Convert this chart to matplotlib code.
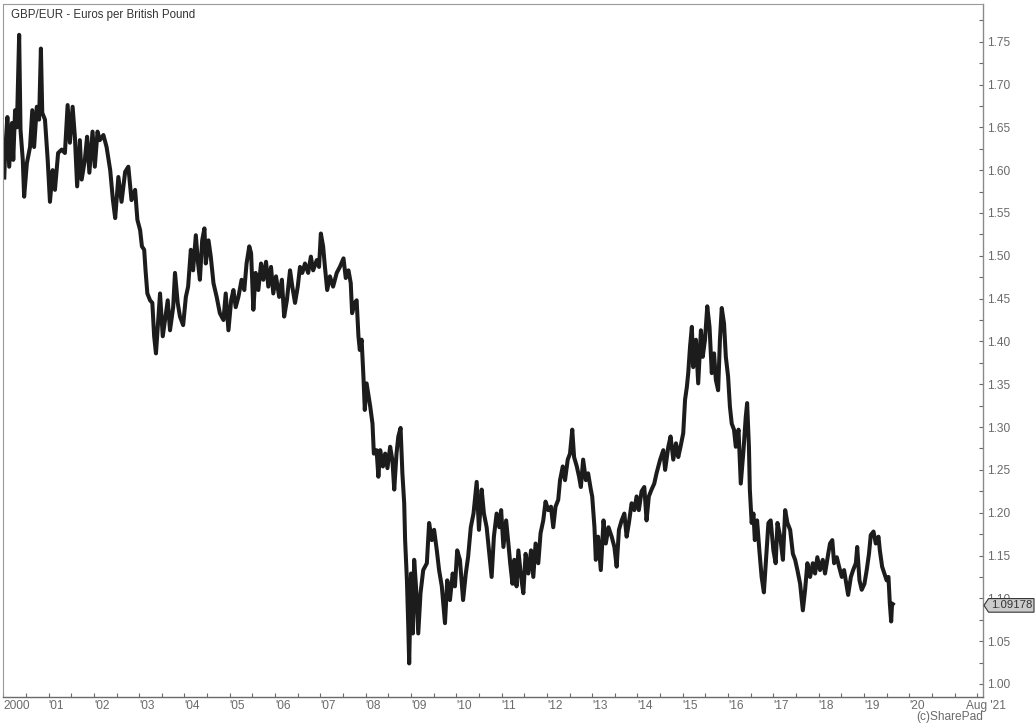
import matplotlib
matplotlib.use("Agg")
import matplotlib.pyplot as plt
from matplotlib.ticker import MultipleLocator, FixedLocator, NullFormatter
from matplotlib.patches import Polygon
import numpy as np

# ---------------- data (decimal year, Euros per GBP) ----------------
dates_a = [2000.02, 2000.04, 2000.09, 2000.13, 2000.19, 2000.22, 2000.26, 2000.30, 2000.35, 2000.38,
           2000.43, 2000.46, 2000.52, 2000.59, 2000.64, 2000.68, 2000.74, 2000.79, 2000.83, 2000.86,
           2000.92, 2000.98, 2001.03, 2001.09, 2001.14, 2001.21, 2001.29, 2001.36, 2001.42, 2001.47,
           2001.53, 2001.58, 2001.63, 2001.69, 2001.73, 2001.80, 2001.85, 2001.90, 2001.97, 2002.02,
           2002.08, 2002.13, 2002.21, 2002.28, 2002.36, 2002.42, 2002.47, 2002.54, 2002.61, 2002.69,
           2002.76, 2002.83, 2002.91, 2002.96, 2003.02, 2003.06, 2003.11, 2003.14, 2003.18, 2003.24,
           2003.29, 2003.33, 2003.37, 2003.42, 2003.46, 2003.52]
values_a = [1.589, 1.620, 1.662, 1.604, 1.655, 1.612, 1.670, 1.650, 1.758, 1.647,
            1.612, 1.569, 1.608, 1.627, 1.670, 1.627, 1.674, 1.659, 1.742, 1.667,
            1.659, 1.612, 1.563, 1.600, 1.577, 1.620, 1.624, 1.620, 1.676, 1.632,
            1.674, 1.639, 1.581, 1.635, 1.589, 1.612, 1.639, 1.597, 1.645, 1.604,
            1.645, 1.635, 1.641, 1.627, 1.600, 1.565, 1.544, 1.592, 1.563, 1.598,
            1.604, 1.565, 1.577, 1.542, 1.530, 1.511, 1.507, 1.483, 1.456, 1.448,
            1.445, 1.406, 1.386, 1.425, 1.456, 1.406]

dates_b = [2003.57, 2003.63, 2003.68, 2003.75, 2003.79, 2003.85, 2003.90, 2003.97, 2004.03, 2004.08,
           2004.14, 2004.19, 2004.25, 2004.30, 2004.34, 2004.39, 2004.44, 2004.47, 2004.53, 2004.58,
           2004.64, 2004.71, 2004.78, 2004.86, 2004.91, 2004.97, 2005.03, 2005.08, 2005.13, 2005.19,
           2005.26, 2005.32, 2005.37, 2005.43, 2005.47, 2005.52, 2005.57, 2005.63, 2005.69, 2005.74,
           2005.80, 2005.85, 2005.91, 2005.96, 2006.02, 2006.09, 2006.15, 2006.20, 2006.26, 2006.33,
           2006.38, 2006.44, 2006.50, 2006.55, 2006.60, 2006.66, 2006.73, 2006.79, 2006.84, 2006.92,
           2006.97, 2007.01, 2007.06, 2007.10, 2007.15]
values_b = [1.425, 1.448, 1.413, 1.440, 1.480, 1.445, 1.429, 1.419, 1.452, 1.464,
            1.507, 1.483, 1.524, 1.491, 1.472, 1.518, 1.532, 1.491, 1.518, 1.499,
            1.468, 1.452, 1.433, 1.425, 1.456, 1.413, 1.448, 1.460, 1.440, 1.452,
            1.472, 1.460, 1.491, 1.511, 1.503, 1.437, 1.480, 1.460, 1.491, 1.472,
            1.493, 1.464, 1.487, 1.456, 1.476, 1.452, 1.472, 1.429, 1.448, 1.483,
            1.464, 1.445, 1.464, 1.487, 1.480, 1.491, 1.480, 1.499, 1.483, 1.495,
            1.487, 1.526, 1.511, 1.487, 1.460]

dates_c = [2007.21, 2007.28, 2007.36, 2007.43, 2007.51, 2007.56, 2007.62, 2007.67, 2007.70, 2007.76,
           2007.80, 2007.84, 2007.87, 2007.91, 2007.95, 2007.98, 2008.02, 2008.10, 2008.15, 2008.18,
           2008.24, 2008.28, 2008.32, 2008.38, 2008.43, 2008.48, 2008.54, 2008.59, 2008.63, 2008.68,
           2008.72, 2008.77, 2008.81, 2008.85, 2008.87, 2008.91, 2008.94, 2008.96, 2009.00, 2009.04,
           2009.07, 2009.11, 2009.16, 2009.21, 2009.27, 2009.35, 2009.40, 2009.46, 2009.51, 2009.57,
           2009.62, 2009.68, 2009.75, 2009.80, 2009.86, 2009.92, 2009.97, 2010.02, 2010.08, 2010.15,
           2010.21, 2010.26, 2010.32, 2010.38, 2010.45, 2010.50, 2010.56, 2010.61, 2010.67, 2010.73,
           2010.78, 2010.83, 2010.89, 2010.95]
values_c = [1.476, 1.464, 1.480, 1.487, 1.497, 1.474, 1.483, 1.468, 1.433, 1.445,
            1.448, 1.406, 1.390, 1.402, 1.359, 1.320, 1.351, 1.324, 1.304, 1.269,
            1.273, 1.242, 1.273, 1.254, 1.269, 1.252, 1.277, 1.261, 1.227, 1.269,
            1.289, 1.299, 1.246, 1.211, 1.168, 1.121, 1.067, 1.024, 1.129, 1.059,
            1.145, 1.114, 1.059, 1.106, 1.133, 1.141, 1.188, 1.168, 1.180, 1.156,
            1.133, 1.114, 1.071, 1.121, 1.098, 1.129, 1.114, 1.156, 1.145, 1.098,
            1.129, 1.148, 1.183, 1.199, 1.236, 1.180, 1.227, 1.199, 1.183, 1.152,
            1.125, 1.172, 1.199, 1.183]

dates_d = [2010.99, 2011.04, 2011.10, 2011.15, 2011.19, 2011.24, 2011.28, 2011.33, 2011.37, 2011.43,
           2011.48, 2011.53, 2011.59, 2011.65, 2011.70, 2011.75, 2011.81, 2011.86, 2011.92, 2011.97,
           2012.03, 2012.09, 2012.14, 2012.19, 2012.25, 2012.29, 2012.35, 2012.40, 2012.46, 2012.51,
           2012.56, 2012.60, 2012.66, 2012.71, 2012.75, 2012.80, 2012.86, 2012.91, 2012.97, 2013.00,
           2013.05, 2013.08, 2013.13, 2013.19, 2013.25, 2013.30, 2013.36, 2013.43, 2013.49, 2013.54,
           2013.59, 2013.65, 2013.71, 2013.76, 2013.81, 2013.87, 2013.93, 2013.98, 2014.03, 2014.09,
           2014.15, 2014.20, 2014.25, 2014.31, 2014.37, 2014.42]
values_d = [1.203, 1.160, 1.191, 1.164, 1.141, 1.117, 1.145, 1.114, 1.156, 1.125,
            1.106, 1.152, 1.129, 1.156, 1.125, 1.164, 1.141, 1.176, 1.191, 1.213,
            1.203, 1.207, 1.183, 1.207, 1.215, 1.238, 1.254, 1.238, 1.262, 1.269,
            1.297, 1.265, 1.254, 1.242, 1.230, 1.262, 1.238, 1.246, 1.227, 1.219,
            1.183, 1.145, 1.172, 1.133, 1.191, 1.164, 1.183, 1.172, 1.160, 1.137,
            1.180, 1.191, 1.199, 1.172, 1.188, 1.211, 1.203, 1.219, 1.203, 1.225,
            1.230, 1.191, 1.219, 1.227, 1.234, 1.246]

dates_e = [2014.50, 2014.57, 2014.61, 2014.68, 2014.73, 2014.79, 2014.85, 2014.90, 2014.95, 2015.01,
           2015.05, 2015.09, 2015.12, 2015.16, 2015.20, 2015.23, 2015.29, 2015.34, 2015.40, 2015.44,
           2015.49, 2015.54, 2015.59, 2015.64, 2015.69, 2015.73, 2015.78, 2015.82, 2015.86, 2015.91,
           2015.95, 2016.00, 2016.04, 2016.08, 2016.13, 2016.17, 2016.23, 2016.28, 2016.34, 2016.39,
           2016.42, 2016.46, 2016.48, 2016.52, 2016.56, 2016.59, 2016.64, 2016.69, 2016.74, 2016.79,
           2016.84, 2016.89, 2016.94, 2017.00, 2017.05, 2017.09, 2017.15, 2017.21, 2017.26, 2017.31,
           2017.37, 2017.43, 2017.48, 2017.53, 2017.59, 2017.65, 2017.70, 2017.75, 2017.81, 2017.87,
           2017.92, 2017.97, 2018.03, 2018.09, 2018.14, 2018.21]
values_e = [1.262, 1.273, 1.250, 1.277, 1.289, 1.262, 1.281, 1.265, 1.277, 1.293,
            1.332, 1.347, 1.363, 1.394, 1.417, 1.370, 1.402, 1.351, 1.413, 1.382,
            1.402, 1.441, 1.417, 1.363, 1.386, 1.355, 1.343, 1.402, 1.439, 1.421,
            1.382, 1.359, 1.324, 1.304, 1.297, 1.277, 1.297, 1.234, 1.273, 1.312,
            1.328, 1.277, 1.227, 1.188, 1.199, 1.168, 1.191, 1.156, 1.125, 1.107,
            1.148, 1.188, 1.191, 1.156, 1.141, 1.188, 1.172, 1.145, 1.203, 1.188,
            1.180, 1.152, 1.145, 1.133, 1.117, 1.086, 1.110, 1.141, 1.125, 1.141,
            1.129, 1.148, 1.133, 1.145, 1.129, 1.152]

dates_f = [2018.25, 2018.30, 2018.34, 2018.40, 2018.45, 2018.51, 2018.56, 2018.62, 2018.65, 2018.71,
           2018.76, 2018.82, 2018.85, 2018.90, 2018.95, 2019.01, 2019.06, 2019.11, 2019.15, 2019.21,
           2019.26, 2019.32, 2019.35, 2019.40, 2019.45, 2019.50, 2019.54, 2019.57, 2019.60, 2019.62,
           2019.67]
values_f = [1.164, 1.168, 1.141, 1.148, 1.137, 1.125, 1.133, 1.114, 1.104, 1.125,
            1.133, 1.141, 1.160, 1.121, 1.110, 1.117, 1.133, 1.152, 1.174, 1.178,
            1.164, 1.172, 1.156, 1.137, 1.129, 1.121, 1.125, 1.094, 1.073, 1.094,
            1.09178]

last_value = 1.09178
title = "GBP/EUR - Euros per British Pound"
year_labels = ["2000"] + ["'%02d" % y for y in range(1, 21)]
end_label = "Aug '21"
credit = "(c)SharePad"

dates = np.concatenate([dates_a, dates_b, dates_c, dates_d, dates_e, dates_f])
values = np.concatenate([values_a, values_b, values_c, values_d, values_e, values_f])

# ---------------- figure ----------------
plt.rcParams['font.family'] = ['Liberation Sans', 'DejaVu Sans']
W, H, DPI = 1036, 728, 100
fig = plt.figure(figsize=(W / DPI, H / DPI), dpi=DPI)
fig.patch.set_facecolor('white')

left, right = 3.3 / W, 982.5 / W
bottom, top = (H - 697) / H, (H - 4) / H
ax = fig.add_axes([left, bottom, right - left, top - bottom])

ax.plot(dates, values, color='#1c1c1c', lw=2.9, solid_joinstyle='round',
        solid_capstyle='butt')

x0, x1 = 2000.0, 2021.616
ax.set_xlim(x0, x1)
ax.set_ylim(0.9848, 1.794)

tick_color = '#6a6a6a'
# spines
for s in ['left', 'top']:
    ax.spines[s].set_linestyle((0, (1, 1)))
    ax.spines[s].set_color('#9a9a9a')
    ax.spines[s].set_linewidth(0.8)
ax.spines['right'].set_color('#8a8a8a')
ax.spines['right'].set_linewidth(1.0)
ax.spines['bottom'].set_color('#6a6a6a')
ax.spines['bottom'].set_linewidth(1.0)

# y axis on right
ax.yaxis.tick_right()
ax.yaxis.set_major_locator(MultipleLocator(0.05))
ax.yaxis.set_minor_locator(MultipleLocator(0.025))
ax.yaxis.set_major_formatter(matplotlib.ticker.FormatStrFormatter('%.2f'))
ax.tick_params(axis='y', which='both', direction='in', length=3.2, width=0.8,
               color='#6a6a6a', labelsize=8.6, labelcolor=tick_color, pad=3,
               left=False, right=True, labelleft=False, labelright=True)

# x axis
major_years = list(range(2000, 2022))
ax.xaxis.set_major_locator(FixedLocator(major_years[:21]))
ax.xaxis.set_minor_locator(FixedLocator([y + 0.5 for y in range(2000, 2022)] + [2021.0]))
ax.set_xticklabels(year_labels)
ax.xaxis.set_minor_formatter(NullFormatter())
ax.tick_params(axis='x', which='both', direction='in', length=3.2, width=0.8,
               color='#6a6a6a', labelsize=8.6, labelcolor=tick_color, pad=2,
               top=False, bottom=True)
for lab in ax.get_xticklabels():
    lab.set_horizontalalignment('left')

ax.text(1.0035, -0.0045, end_label, transform=ax.transAxes, ha='center', va='top',
        fontsize=8.6, color=tick_color, clip_on=False)
fig.text(950 / W, 1 - 717 / H, credit, ha='center', va='center', fontsize=8.6, color=tick_color)

ax.text(0.0083, 0.9835, title, transform=ax.transAxes, ha='left', va='center',
        fontsize=8.3, color='#333333')

# last-value marker box on the right axis
fig.canvas.draw()
_, yc = ax.transData.transform((x1, last_value))
xa = 984.0
hh = 6.8
poly = Polygon([(xa, yc), (xa + 4.5, yc + hh), (1034, yc + hh), (1034, yc - hh),
                (xa + 4.5, yc - hh)], closed=True, transform=None,
               facecolor='#cccccc', edgecolor='#333333', linewidth=0.8, zorder=5)
fig.patches.append(poly)
poly.set_figure(fig)
fig.text((xa + 5.5 + 1034) / 2 / W, yc / H, "%.5f" % last_value, ha='center', va='center',
         fontsize=8.2, color='#333333', zorder=6)

fig.savefig('out.png', dpi=DPI, facecolor='white')
